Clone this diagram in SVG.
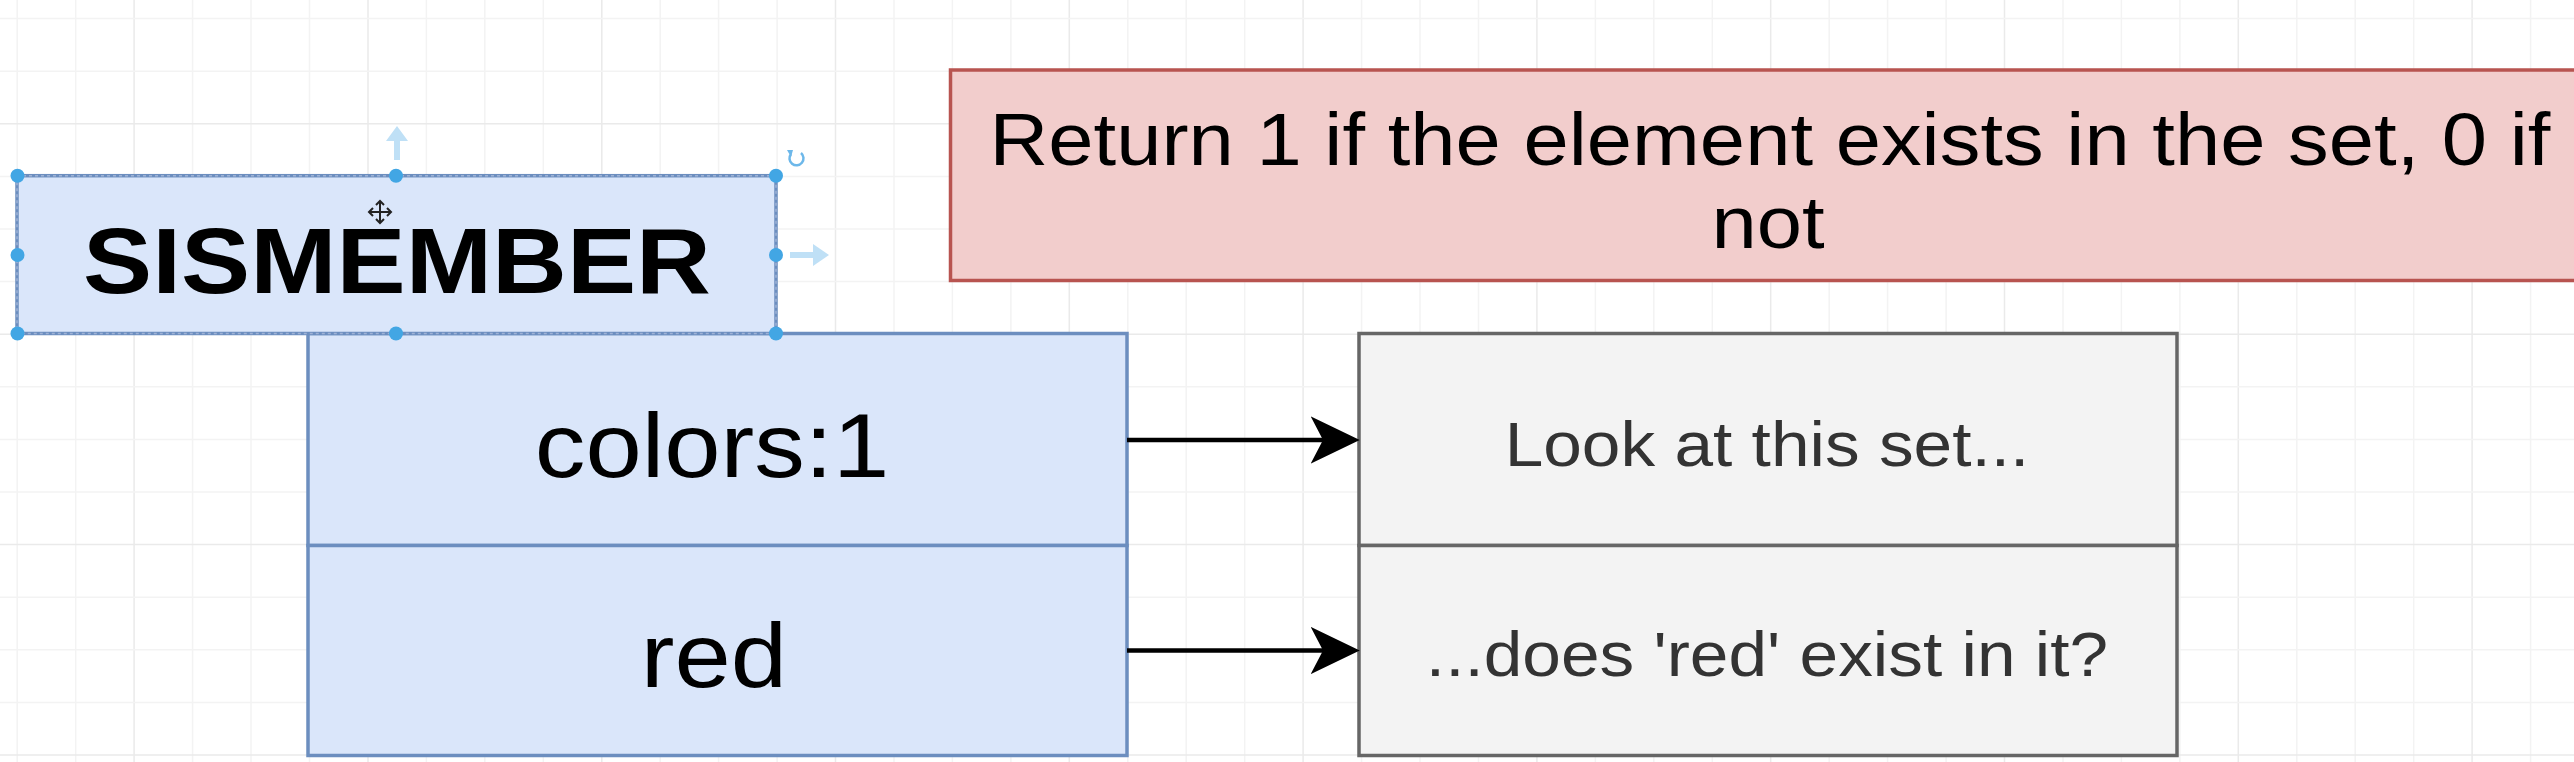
<svg xmlns="http://www.w3.org/2000/svg" width="2574" height="762" viewBox="0 0 2574 762">
<style>
.minor{stroke:#f3f3f3;stroke-width:1.5}
.major{stroke:#eaeaea;stroke-width:1.5}
.blue{fill:#dae6fa;stroke:#6c8ebf;stroke-width:3.5}
.gray{fill:#f3f3f3;stroke:#666666;stroke-width:3.5}
.pink{fill:#f2cdcc;stroke:#b85450;stroke-width:3.5}
.t{font-family:"Liberation Sans",Arial,sans-serif;text-anchor:middle;fill:#000}
.tg{font-family:"Liberation Sans",Arial,sans-serif;text-anchor:middle;fill:#333333}
.conn{stroke:#000;stroke-width:4.5;fill:none}
.handle{fill:#42a6e4}
.hint{fill:#bfe0f6}
</style>
<defs>
<marker id="arrow" markerUnits="userSpaceOnUse" markerWidth="52" markerHeight="50" refX="12.25" refY="24" orient="auto" viewBox="0 0 52 50">
<path d="M49,24 L0,0.5 L12.25,24 L0,47.5 Z" fill="#000"/>
</marker>
</defs>
<rect width="2574" height="762" fill="#ffffff"/>
<g id="grid">
<path class="minor" d="M75.7,0V762M192.6,0V762M251,0V762M309.5,0V762M426.4,0V762M484.8,0V762M543.3,0V762M660.2,0V762M718.6,0V762M777.1,0V762M894,0V762M952.4,0V762M1010.9,0V762M1127.8,0V762M1186.2,0V762M1244.7,0V762M1361.6,0V762M1420,0V762M1478.5,0V762M1595.4,0V762M1653.8,0V762M1712.3,0V762M1829.2,0V762M1887.6,0V762M1946.1,0V762M2063,0V762M2121.4,0V762M2179.9,0V762M2296.8,0V762M2355.2,0V762M2413.7,0V762M2530.6,0V762M17.2,0V762"/>
<path class="major" d="M134.1,0V762M368,0V762M601.8,0V762M835.5,0V762M1069.3,0V762M1303.1,0V762M1536.9,0V762M1770.7,0V762M2004.5,0V762M2238.3,0V762M2472.1,0V762"/>
<path class="minor" d="M0,18.6H2574M0,71.2H2574M0,176.4H2574M0,229H2574M0,281.6H2574M0,386.8H2574M0,439.4H2574M0,492H2574M0,597.2H2574M0,649.8H2574M0,702.4H2574"/>
<path class="major" d="M0,123.8H2574M0,334.2H2574M0,544.6H2574M0,755H2574"/>
</g>
<g id="node-description">
<rect class="pink" x="950.5" y="70" width="1660" height="210.5"/>
<text class="t" transform="translate(1770 165) scale(1.109 1)" font-size="73.4">Return 1 if the element exists in the set, 0 if</text>
<text class="t" transform="translate(1768 248) scale(1.109 1)" font-size="73.4">not</text>
</g>
<g id="node-key">
<rect class="blue" x="308" y="333.5" width="819" height="212"/>
<text class="t" transform="translate(712 476.5) scale(1.109 1)" font-size="91.3">colors:1</text>
</g>
<g id="node-member">
<rect class="blue" x="308" y="545.5" width="819" height="210"/>
<text class="t" transform="translate(714 686.5) scale(1.109 1)" font-size="91.3">red</text>
</g>
<g id="node-look">
<rect class="gray" x="1359" y="333.5" width="818" height="212"/>
<text class="tg" transform="translate(1767 465.5) scale(1.109 1)" font-size="62.6">Look at this set...</text>
</g>
<g id="node-exists">
<rect class="gray" x="1359" y="545.5" width="818" height="210"/>
<text class="tg" transform="translate(1767 676) scale(1.109 1)" font-size="62.6">...does 'red' exist in it?</text>
</g>
<g id="node-command">
<rect x="17" y="175.7" width="759" height="157.8" fill="#dae6fa" stroke="#6c8ebf" stroke-width="3.5"/>
<rect x="17" y="175.7" width="759" height="157.8" fill="none" stroke="#9fb3d6" stroke-width="1.5" stroke-dasharray="3 3"/>
<text class="t" transform="translate(397 292.5) scale(1.109 1)" font-size="93.5" font-weight="bold">SISMEMBER</text>
<g id="selection-handles">
<circle class="handle" cx="17.5" cy="175.7" r="7"/>
<circle class="handle" cx="396" cy="175.7" r="7"/>
<circle class="handle" cx="776" cy="175.7" r="7"/>
<circle class="handle" cx="17.5" cy="255" r="7"/>
<circle class="handle" cx="776" cy="255" r="7"/>
<circle class="handle" cx="17.5" cy="333.5" r="7"/>
<circle class="handle" cx="396" cy="333.5" r="7"/>
<circle class="handle" cx="776" cy="333.5" r="7"/>
<path class="hint" d="M394,160V141H386L397,126L408,141H400V160Z"/>
<path class="hint" d="M790,252H813V244L829,255L813,266V258H790Z"/>
<path d="M801,153A7,7 0 1 1 791,154" fill="none" stroke="#6db8ea" stroke-width="2.5"/>
<path d="M787,150L793,150L791,157Z" fill="#6db8ea"/>
<path d="M380,202V222M370,212H390M376,205L380,201L384,205M376,219L380,223L384,219M373,208L369,212L373,216M387,208L391,212L387,216" fill="none" stroke="#222" stroke-width="2"/>
</g>
</g>
<g id="connectors">
<line class="conn" x1="1127" y1="440" x2="1323" y2="440" marker-end="url(#arrow)"/>
<line class="conn" x1="1127" y1="650.5" x2="1323" y2="650.5" marker-end="url(#arrow)"/>
</g>
</svg>
